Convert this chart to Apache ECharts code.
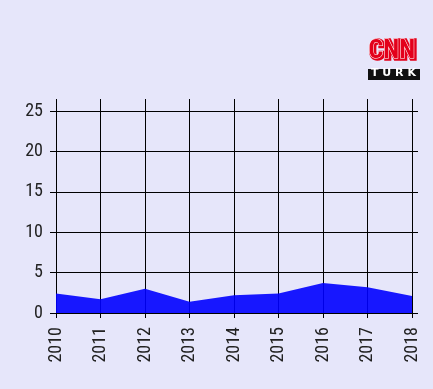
<!DOCTYPE html>
<html>
<head>
<meta charset="utf-8">
<script src="https://cdn.jsdelivr.net/npm/echarts@6/dist/echarts.min.js"></script>
<style>
html,body{margin:0;padding:0;background:#e6e6fa;}
#c{width:433px;height:389px;}
</style>
</head>
<body>
<div id="c"></div>
<script>
var years = [2010, 2011, 2012, 2013, 2014, 2015, 2016, 2017, 2018];
var values = [2.4, 1.7, 3.0, 1.4, 2.2, 2.4, 3.7, 3.2, 2.1];
var yTicks = [0, 5, 10, 15, 20, 25];

var FONT = '"Roboto Condensed", "Roboto", sans-serif';
var chart = echarts.init(document.getElementById('c'), null, {renderer: 'canvas'});
var pts = years.map(function (y, i) { return [y, values[i]]; });
var hiddenLine = {show: true, onZero: false, lineStyle: {color: 'rgba(0,0,0,0)', width: 0}};

chart.setOption({
  backgroundColor: '#e6e6fa',
  animation: false,
  grid: {left: 56, right: 21, top: 111, bottom: 76, containLabel: false},
  xAxis: [{
    type: 'value', min: years[0], max: years[years.length - 1], interval: 1,
    position: 'bottom',
    axisLine: hiddenLine,
    axisTick: {show: true, length: 5, inside: false, lineStyle: {color: '#000', width: 1}},
    axisLabel: {rotate: 90, margin: 14, fontFamily: FONT, fontSize: 18, color: '#222',
      formatter: function (v) { return String(v); }},
    splitLine: {show: true, lineStyle: {color: '#000', width: 1}}
  }, {
    type: 'value', min: years[0], max: years[years.length - 1], interval: 1,
    position: 'top',
    axisLine: hiddenLine,
    axisTick: {show: true, length: 12, inside: false, lineStyle: {color: '#000', width: 1}},
    axisLabel: {show: false},
    splitLine: {show: false}
  }],
  yAxis: [{
    type: 'value', min: yTicks[0], max: yTicks[yTicks.length - 1], interval: 5,
    position: 'left',
    axisLine: hiddenLine,
    axisTick: {show: true, length: 6, inside: false, lineStyle: {color: '#000', width: 1}},
    axisLabel: {margin: 13, fontFamily: FONT, fontSize: 18, color: '#222'},
    splitLine: {show: true, lineStyle: {color: '#000', width: 1}}
  }, {
    type: 'value', min: yTicks[0], max: yTicks[yTicks.length - 1], interval: 5,
    position: 'right',
    axisLine: hiddenLine,
    axisTick: {show: true, length: 6, inside: false, lineStyle: {color: '#000', width: 1}},
    axisLabel: {show: false},
    splitLine: {show: false}
  }],
  series: [{
    type: 'line',
    xAxisIndex: 0, yAxisIndex: 0,
    data: pts,
    symbol: 'none',
    lineStyle: {width: 0},
    areaStyle: {color: '#0000ff', opacity: 0.9},
    z: 3
  }],
  graphic: [
    {type: 'text', left: 368, top: 38, style: {text: 'CNN', fill: '#e3001b', stroke: '#e3001b', lineWidth: 3.5,
      font: 'bold 26px "Roboto Condensed", sans-serif'}},
    {type: 'text', left: 368, top: 38, style: {text: 'CNN', fill: '#e3001b', stroke: '#ffffff', lineWidth: 1,
      font: 'bold 26px "Roboto Condensed", sans-serif'}},
    {type: 'rect', left: 368, top: 69, shape: {width: 52, height: 11}, style: {fill: '#111'}},
    {type: 'text', left: 371, top: 68, style: {text: 'T U R K', fill: '#fff',
      font: 'bold 11px "DejaVu Sans", sans-serif'}}
  ]
});
</script>
</body>
</html>
